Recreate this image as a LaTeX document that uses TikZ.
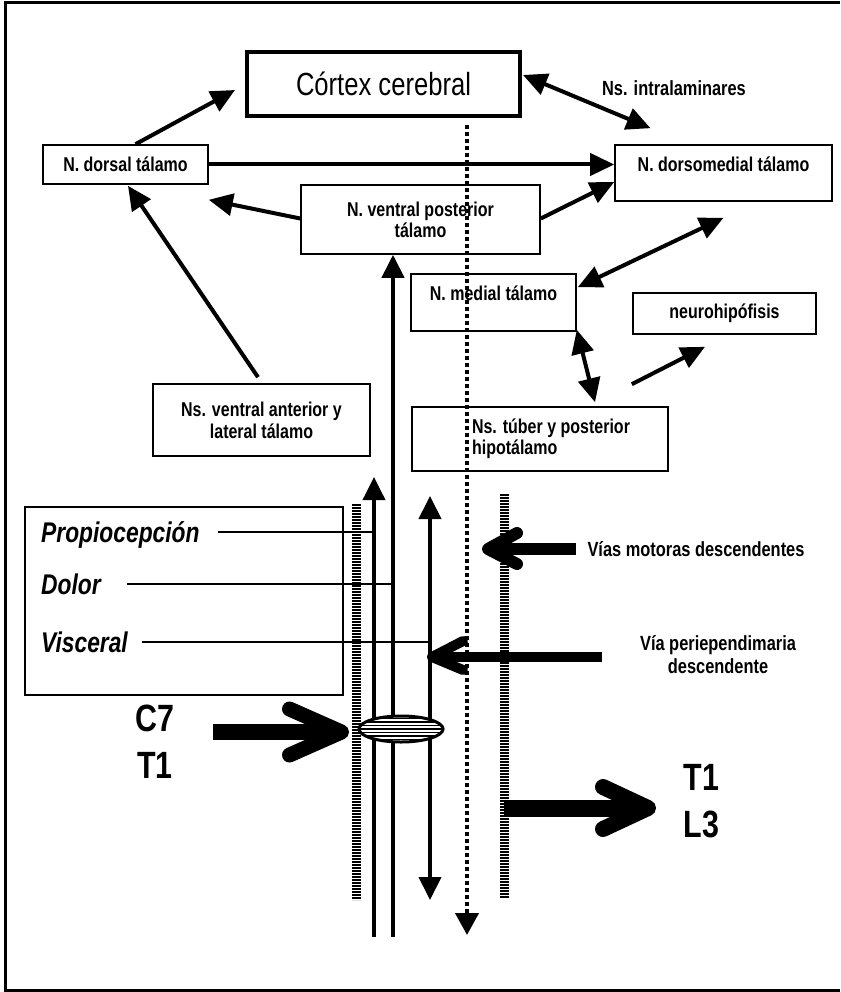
\documentclass[tikz,border=0pt]{standalone}
\usepackage{fontspec}
\setmainfont[FakeStretch=0.8]{Liberation Sans}
\usetikzlibrary{positioning, arrows.meta, shapes.geometric, calc}

\tikzset{
  thal/.style={draw, line width=1.6pt, fill=white, align=center, inner sep=3pt,
    font=\bfseries\fontsize{20}{21}\selectfont},
  link/.style={line width=4pt, -{Triangle[length=24pt,width=22pt]}},
  duo/.style={line width=4pt, {Triangle[length=24pt,width=22pt]}-{Triangle[length=24pt,width=22pt]}},
  tag/.style={font=\bfseries\fontsize{20.5}{23}\selectfont, align=center, inner sep=0pt},
  sens/.style={font=\bfseries\itshape\fontsize{28.5}{30}\selectfont, inner sep=0pt,
    text height=20pt, text depth=0pt, anchor=west},
  seg/.style={font=\bfseries\fontsize{38}{47}\selectfont, align=center, inner sep=0pt},
  lead/.style={line width=1.3pt},
  band/.style={line width=9pt, dash pattern=on 1.6pt off 1.4pt},
  fatshaft/.style={line width=#1},
  fatbarb/.style={line width=#1, line cap=round, line join=round},
  gang/.style={ellipse, draw, line width=3pt, fill=white, inner sep=0pt,
    minimum width=84pt, minimum height=26pt,
    path picture={\foreach \k in {-10.5,-7,...,10.5}
      \draw[line width=1.9pt] ([yshift=\k pt]path picture bounding box.west) -- ([yshift=\k pt]path picture bounding box.east);}},
}

\begin{document}
\begin{tikzpicture}[x=1pt, y=-1pt]
  \useasboundingbox (0,0) rectangle (840,992);
  % frame
  \draw[line width=3pt] (840,3) -- (5.5,3) -- (5.5,990) -- (840,990);

  % thalamic boxes
  \node[thal, line width=4pt, font=\fontsize{32}{34}\selectfont, minimum width=273pt, minimum height=64pt] (cortex) at (383.5,84) {Córtex cerebral};
  \node[thal, minimum width=165pt, minimum height=39pt] (dorsal) at (125.5,164.5) {N. dorsal tálamo};
  \node[thal, minimum width=217pt, minimum height=56pt, text height=20pt, text depth=22pt] (dmed) at (723.5,173) {N. dorsomedial tálamo};
  \node[thal, minimum width=239pt, minimum height=69pt] (vpost) at (420.5,219.5) {N. ventral posterior\\tálamo};
  \node[thal, minimum width=165pt, minimum height=57pt, text height=20pt, text depth=24.6pt] (medial) at (493.5,302.5) {N. medial tálamo};
  \node[thal, minimum width=183pt, minimum height=41pt] (neuro) at (724.5,313.5) {neurohipófisis};
  \node[thal, minimum width=217pt, minimum height=72pt, font=\bfseries\fontsize{20}{22}\selectfont] (vant) at (261.5,420) {Ns. ventral anterior y\\lateral tálamo};
  \node[thal, minimum width=256pt, minimum height=64pt, align=left] (tuber) at (540,439) {\hspace*{22pt}Ns. túber y posterior\\\hspace*{22pt}hipotálamo};
  \node[thal, minimum width=318pt, minimum height=188pt] (sensbox) at (184,601) {};

  % free labels
  \node[tag] (intra) at (674,88) {Ns. intralaminares};
  \node[tag] (vmot) at (696,549) {Vías motoras descendentes};
  \node[tag] (vper) at (718,654.5) {Vía periependimaria\\descendente};
  \node[seg] (c7) at (155,741.5) {C7\\T1};
  \node[seg] (l3) at (701.5,801.5) {T1\\L3};
  \node[sens] (propio) at (41,532) {Propiocepción};
  \node[sens] (dolor) at (41,584) {Dolor};
  \node[sens] (visc) at (41,642) {Visceral};

  % thalamic connections
  \draw[link] ([xshift=10pt]dorsal.north) -- ([shift={(-10,6)}]cortex.west);
  \draw[link] (dorsal.east) -- (dorsal.east -| dmed.west);
  \draw[duo] ([shift={(1,-9)}]cortex.east) -- ([shift={(-73,-16)}]dmed.north);
  \draw[link] ([shift={(0,-1)}]vpost.west) -- ([shift={(0,15)}]dorsal.south east);
  \draw[link] ([shift={(0,-1)}]vpost.east) -- ([shift={(0,9)}]dmed.west);
  \draw[duo] ([shift={(1,14)}]medial.north east) -- ([shift={(0,16)}]dmed.south);
  \draw[duo] ([shift={(0,-2)}]medial.south east) -- ([shift={(55,-4)}]tuber.north);
  \draw[link] ([shift={(-37,-22)}]tuber.north east) -- ([shift={(-19.5,12)}]neuro.south);
  \draw[link] ([shift={(-3.5,-6)}]vant.north) -- ([shift={(2.5,1)}]dorsal.south);

  % spinal cord
  \coordinate (aBot) at (374,937);
  \coordinate (aTop) at (374,477);
  \coordinate (bBot) at (393,937);
  \coordinate (cTop) at (430,496);
  \coordinate (cBot) at (430,900);
  \coordinate (dBot) at (467,935);
  \coordinate (lbTop) at (356,504);
  \coordinate (lbBot) at (356,900);
  \coordinate (rbTop) at (504,494);
  \coordinate (rbBot) at (504,898);

  \draw[band] (lbTop) -- (lbBot);
  \draw[band] (rbTop) -- (rbBot);
  \draw[line width=3.7pt, -{Triangle[length=23pt,width=22pt]}] (aBot) -- (aTop);
  \draw[line width=4.3pt, -{Triangle[length=23pt,width=22pt]}] (bBot) -- (bBot |- vpost.south);
  \draw[line width=4pt, {Triangle[length=23pt,width=22pt]}-{Triangle[length=23pt,width=22pt]}] (cTop) -- (cBot);
  \draw[line width=4pt, dash pattern=on 4pt off 3pt, -{Triangle[length=22pt,width=23pt]}] ([yshift=-7pt]cortex.south -| dBot) -- (dBot);

  \draw[lead] ([xshift=18pt]propio.east) -- (propio.east -| aBot);
  \draw[lead] ([xshift=26pt]dolor.east) -- (dolor.east -| bBot);
  \draw[lead] ([xshift=14pt]visc.east) -- (visc.east -| cTop);

  \node[gang] (gang) at (401,729) {};

  % thick arrows
  \coordinate (c7tail) at (213,732);
  \coordinate (c7tip) at ([shift={(-16,3)}]gang.west);
  \draw[fatshaft=16pt] (c7tail) -- (c7tip);
  \draw[fatbarb=15pt] ([shift={(-52,-23)}]c7tip) -- (c7tip) -- ([shift={(-52,23)}]c7tip);

  \coordinate (l3tip) at (648,808);
  \draw[fatshaft=17pt] (rbTop |- l3tip) -- (l3tip);
  \draw[fatbarb=16pt] ([shift={(-45,-21)}]l3tip) -- (l3tip) -- ([shift={(-45,21)}]l3tip);

  \coordinate (vmtip) at (488,549);
  \draw[fatshaft=12pt] ([xshift=-11pt]vmot.west) -- (vmtip);
  \draw[fatbarb=12pt] ([shift={(29,-16)}]vmtip) -- (vmtip) -- ([shift={(29,15)}]vmtip);

  \coordinate (vptip) at (432,657);
  \draw[fatshaft=10pt] ([shift={(-38,2.5)}]vper.west) -- (vptip);
  \draw[fatbarb=10pt] ([shift={(31,-16)}]vptip) -- (vptip) -- ([shift={(31,13)}]vptip);
\end{tikzpicture}
\end{document}
